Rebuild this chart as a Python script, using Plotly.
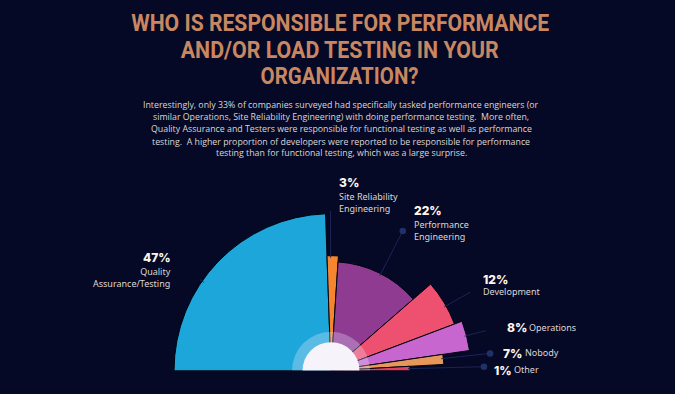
import plotly.graph_objects as go

# ---------------- data ----------------
categories = ["Quality<br>Assurance/Testing", "Site Reliability<br>Engineering",
              "Performance<br>Engineering", "Development", "Operations", "Nobody", "Other"]
pct = [47, 3, 22, 12, 8, 7, 1]
# angular span of each slice (deg) and radial length of each slice, as drawn
arc_span = [88.0, 5.7, 45.3, 20.3, 12.4, 5.1, 3.2]
bar_len = [157, 115, 109, 132, 140, 113, 79]

# ---------------- styles ----------------
BG = "#050926"
colors = ["#1ca6d9", "#f5862f", "#8f3b92", "#ee5070", "#c866d0", "#e8975a", "#e2405f"]
TITLE_C = "#c98761"
TEXT_C = "#ddd6d2"
W, H = 675, 394
CX, CY, RPX = 331, 370.7, 160  # polar centre (px) and px radius of the radial range

# theta centres: slices run clockwise from 180 deg
theta = []
start = 180.0
for s in arc_span:
    theta.append(start - s / 2)
    start -= s

fig = go.Figure()

fig.add_trace(go.Barpolar(
    r=bar_len, theta=theta, width=arc_span,
    marker=dict(color=colors, line=dict(color="#02030f", width=1)),
    hoverinfo="skip", showlegend=False,
))

# leader lines (radial) and dots
leader_theta = [145.2, 90.2, 62.8, 29.4, 14.5, 6.2, 1.5]
leader_r = [181, 178, 157, 164, 171, 160, 153]
for i in range(len(pct)):
    fig.add_trace(go.Scatterpolar(
        r=[bar_len[i] - 2, leader_r[i]], theta=[leader_theta[i]] * 2,
        mode="lines", line=dict(color="#1b2555", width=1),
        hoverinfo="skip", showlegend=False))
fig.add_trace(go.Scatterpolar(
    r=leader_r, theta=leader_theta, mode="markers",
    marker=dict(size=6.5, color="#22306a"), hoverinfo="skip", showlegend=False))

# glow and white hub
fig.add_trace(go.Barpolar(r=[39], theta=[90], width=[180],
                          marker=dict(color="rgba(235,235,255,0.3)", line=dict(width=0)),
                          hoverinfo="skip", showlegend=False))
fig.add_trace(go.Barpolar(r=[28.5], theta=[90], width=[180],
                          marker=dict(color="#f6f3fb", line=dict(width=0)),
                          hoverinfo="skip", showlegend=False))

fig.update_layout(
    width=W, height=H,
    margin=dict(l=0, r=0, t=0, b=0),
    paper_bgcolor=BG, plot_bgcolor=BG,
    polar=dict(
        domain=dict(x=[(CX - RPX) / W, (CX + RPX) / W],
                    y=[(H - CY) / H, (H - CY + RPX) / H]),
        sector=[0, 180],
        barmode="overlay",
        bgcolor="rgba(0,0,0,0)",
        radialaxis=dict(visible=False, range=[0, RPX], showgrid=False),
        angularaxis=dict(visible=False, showgrid=False, direction="counterclockwise",
                         rotation=0),
        bargap=0,
    ),
)

def px(x, y):
    return x / W, 1 - y / H

ann = []
title_lines = ["WHO IS RESPONSIBLE FOR PERFORMANCE", "AND/OR LOAD TESTING IN YOUR", "ORGANIZATION?"]
title_len = [418, 318, 158]
for line, y in zip(title_lines, [23, 50, 76]):
    x, yy = px(340, y)
    ann.append(dict(x=x, y=yy, text=line, showarrow=False, xanchor="center", yanchor="middle",
                    borderpad=0,
                    font=dict(family="Roboto", size=24, color=TITLE_C, weight="bold")))

para = [
    "Interestingly, only 33% of companies surveyed had specifically tasked performance engineers (or",
    "similar Operations, Site Reliability Engineering) with doing performance testing.  More often,",
    "Quality Assurance and Testers were responsible for functional testing as well as performance",
    "testing.  A higher proportion of developers were reported to be responsible for performance",
    "testing than for functional testing, which was a large surprise.",
]
for line, y in zip(para, [105, 117, 129, 141.5, 153.5]):
    x, yy = px(341, y)
    ann.append(dict(x=x, y=yy, text=line, showarrow=False, xanchor="center", yanchor="middle",
                    borderpad=0,
                    font=dict(family="Open Sans", size=8.8, color=TEXT_C)))

# labels: (pct x, pct y, label x, label centre y, anchor)
label_pos = [
    (172, 256.5, 172, 277.5, "right"),
    (338, 181.5, 338, 202, "left"),
    (413, 209.5, 413, 230, "left"),
    (482, 278.5, 482, 291, "left"),
    (506, 327, 528, 327, "left"),
    (502, 352.5, 524, 352.5, "left"),
    (493, 369.5, 513, 369.5, "left"),
]
PCT_FONT = dict(family="Inter", size=12, color="#fdf6ee", weight=800)
LAB_FONT = dict(family="Noto Sans", size=9, color=TEXT_C)
for i, (px_, py_, lx, ly, anc) in enumerate(label_pos):
    x, y = px(px_, py_)
    ann.append(dict(x=x, y=y, text=f"{pct[i]}%", showarrow=False, xanchor=anc,
                    yanchor="middle", height=12, borderpad=0, font=PCT_FONT))
    x, y = px(lx, ly)
    ann.append(dict(x=x, y=y, text=categories[i], showarrow=False, xanchor=anc,
                    yanchor="middle", align=anc, borderpad=0, font=LAB_FONT))

fig.update_layout(annotations=ann)

js_lengths = ",".join(f"'{t}':{l}" for t, l in zip(title_lines, title_len))
post = (
    "document.body.style.margin='0';document.body.style.overflow='hidden';"
    "document.body.style.background='" + BG + "';"
    "var L={" + js_lengths + "};"
    "document.querySelectorAll('text.annotation-text').forEach(function(t){"
    "var s=t.textContent;if(L[s]){t.setAttribute('textLength',L[s]);"
    "t.setAttribute('lengthAdjust','spacingAndGlyphs');}});"
)
fig.write_html("out.html", config={"displayModeBar": False}, post_script=post)
